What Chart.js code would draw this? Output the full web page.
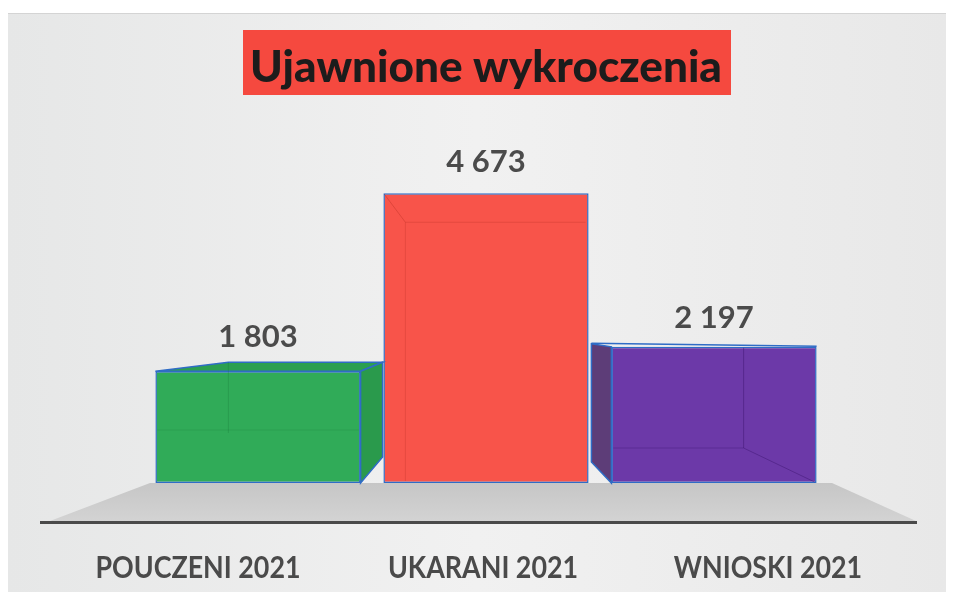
<!DOCTYPE html>
<html>
<head>
<meta charset="utf-8">
<script src="https://cdn.jsdelivr.net/npm/chart.js@4"></script>
<style>
  html, body { margin: 0; padding: 0; background: #ffffff; }
  #wrap { width: 954px; height: 603px; position: relative; }
</style>
</head>
<body>
<div id="wrap"><canvas id="chart" width="954" height="603"></canvas></div>
<script>
// Data
const categories = ['POUCZENI 2021', 'UKARANI 2021', 'WNIOSKI 2021'];
const values = [1803, 4673, 2197];
const titleText = 'Ujawnione wykroczenia';

// Colours
const barColors = ['#30ab58', '#f8544a', '#6c39a8'];
const edgeColor = '#2f6cc6';
const textColor = '#4b4b4b';

const fmt = v => String(v).replace(/\B(?=(\d{3})+(?!\d))/g, ' ');

// background panel, title and floor
const backdrop = {
    id: 'backdrop',
    beforeDraw(chart) {
        const ctx = chart.ctx;
        ctx.save();
        const g = ctx.createLinearGradient(8, 0, 946, 0);
        g.addColorStop(0, '#e6e7e7');
        g.addColorStop(0.5, '#f1f1f1');
        g.addColorStop(1, '#e8e8e8');
        ctx.fillStyle = g;
        ctx.fillRect(8, 13, 938, 579);
        ctx.strokeStyle = '#d4d4d4';
        ctx.lineWidth = 1;
        ctx.beginPath();
        ctx.moveTo(8, 13.5);
        ctx.lineTo(946, 13.5);
        ctx.stroke();

        // title
        ctx.fillStyle = '#f5493f';
        ctx.fillRect(243, 30, 488, 65);
        let size = 44;
        ctx.font = '900 ' + size + 'px Lato, "Open Sans", sans-serif';
        size = size * 472 / ctx.measureText(titleText).width;
        ctx.font = '900 ' + size.toFixed(1) + 'px Lato, "Open Sans", sans-serif';
        ctx.fillStyle = '#1c1c1c';
        ctx.textAlign = 'center';
        ctx.textBaseline = 'alphabetic';
        ctx.fillText(titleText, 486, 82);
        ctx.restore();
    },
    beforeDatasetsDraw(chart) {
        const ctx = chart.ctx;
        const y0 = chart.scales.y.getPixelForValue(0);
        ctx.save();
        const g = ctx.createLinearGradient(0, y0, 0, y0 + 38);
        g.addColorStop(0, '#c6c6c6');
        g.addColorStop(1, '#d3d3d3');
        ctx.fillStyle = g;
        ctx.beginPath();
        ctx.moveTo(150, y0);
        ctx.lineTo(832, y0);
        ctx.lineTo(916, y0 + 38);
        ctx.lineTo(50, y0 + 38);
        ctx.closePath();
        ctx.fill();
        ctx.strokeStyle = '#4a4a4a';
        ctx.lineWidth = 3;
        ctx.beginPath();
        ctx.moveTo(40, y0 + 39.5);
        ctx.lineTo(917, y0 + 39.5);
        ctx.stroke();
        ctx.restore();
    }
};

function poly(ctx, pts, fill, stroke) {
    ctx.beginPath();
    ctx.moveTo(pts[0][0], pts[0][1]);
    for (let i = 1; i < pts.length; i++) ctx.lineTo(pts[i][0], pts[i][1]);
    ctx.closePath();
    if (fill) { ctx.fillStyle = fill; ctx.fill(); }
    if (stroke) { ctx.strokeStyle = stroke; ctx.lineWidth = 1.5; ctx.stroke(); }
}

function line(ctx, x1, y1, x2, y2, color, w) {
    ctx.strokeStyle = color;
    ctx.lineWidth = w || 1;
    ctx.beginPath();
    ctx.moveTo(x1, y1);
    ctx.lineTo(x2, y2);
    ctx.stroke();
}

// 3D faces, inner edges and the labels
const depth = {
    id: 'depth',
    afterDatasetsDraw(chart) {
        const ctx = chart.ctx;
        const bars = chart.getDatasetMeta(0).data;
        ctx.save();

        // green: top and right side
        let b = bars[0];
        let l = b.x - b.width / 2, r = b.x + b.width / 2;
        poly(ctx, [[l, b.y], [r, b.y], [r + 22, b.y - 9], [l + 73, b.y - 9]], '#2b9f50', edgeColor);
        poly(ctx, [[r, b.y], [r + 22, b.y - 9], [r + 22, b.base - 26], [r, b.base]], '#2a9a4c', edgeColor);
        line(ctx, l + 73, b.y - 9, l + 73, b.base - 50, 'rgba(20,110,50,0.25)');
        line(ctx, l + 2, b.base - 53, r - 2, b.base - 53, 'rgba(20,110,50,0.2)');

        // red: inner back edges
        b = bars[1];
        l = b.x - b.width / 2; r = b.x + b.width / 2;
        line(ctx, l + 1, b.y + 1, l + 22, b.y + 29, 'rgba(190,50,40,0.45)');
        line(ctx, l + 22, b.y + 29, r - 3, b.y + 29, 'rgba(190,50,40,0.3)');
        line(ctx, l + 22, b.y + 29, l + 22, b.base - 2, 'rgba(190,50,40,0.3)');

        // purple: left side and inner back edges
        b = bars[2];
        l = b.x - b.width / 2; r = b.x + b.width / 2;
        poly(ctx, [[l - 20, b.y - 3], [l, b.y], [l, b.base], [l - 20, b.base - 21]], '#5d3d78', edgeColor);
        line(ctx, l - 20, b.y - 3.5, r, b.y - 0.5, edgeColor, 1.5);
        line(ctx, r - 73, b.y + 1, r - 73, b.base - 35, 'rgba(60,20,110,0.45)');
        line(ctx, l + 2, b.base - 35, r - 73, b.base - 35, 'rgba(60,20,110,0.35)');
        line(ctx, r - 73, b.base - 35, r - 2, b.base - 1, 'rgba(60,20,110,0.45)');

        // value labels
        ctx.fillStyle = textColor;
        ctx.textAlign = 'center';
        ctx.textBaseline = 'alphabetic';
        ctx.font = 'bold 31px Lato, "Open Sans", sans-serif';
        const lift = [24, 21, 19];
        bars.forEach((bar, i) => {
            ctx.fillText(fmt(values[i]), bar.x, bar.y - lift[i]);
        });

        // category labels, spread out like the perspective floor, narrow lettering
        const cx = (chart.chartArea.left + chart.chartArea.right) / 2;
        ctx.font = 'bold 30px Lato, "Open Sans", sans-serif';
        ctx.fillStyle = '#4a4a4a';
        const squeeze = 205 / ctx.measureText(categories[0]).width;
        bars.forEach((bar, i) => {
            const x = cx + (bar.x - cx) * 1.25 - 3;
            ctx.save();
            ctx.translate(x, 578);
            ctx.scale(squeeze, 1);
            ctx.fillText(categories[i], 0, 0);
            ctx.restore();
        });
        ctx.restore();
    }
};

new Chart(document.getElementById('chart').getContext('2d'), {
    type: 'bar',
    data: {
        labels: categories,
        datasets: [{
            data: values,
            backgroundColor: barColors,
            borderColor: edgeColor,
            borderWidth: 1.5,
            borderSkipped: false,
            categoryPercentage: 0.9,
            barPercentage: 1
        }]
    },
    options: {
        responsive: false,
        animation: false,
        layout: { padding: { left: 144, right: 126, top: 173, bottom: 120 } },
        plugins: {
            legend: { display: false },
            tooltip: { enabled: false }
        },
        scales: {
            x: { display: false },
            y: { display: false, min: 0, max: 5000 }
        }
    },
    plugins: [backdrop, depth]
});
</script>
</body>
</html>
